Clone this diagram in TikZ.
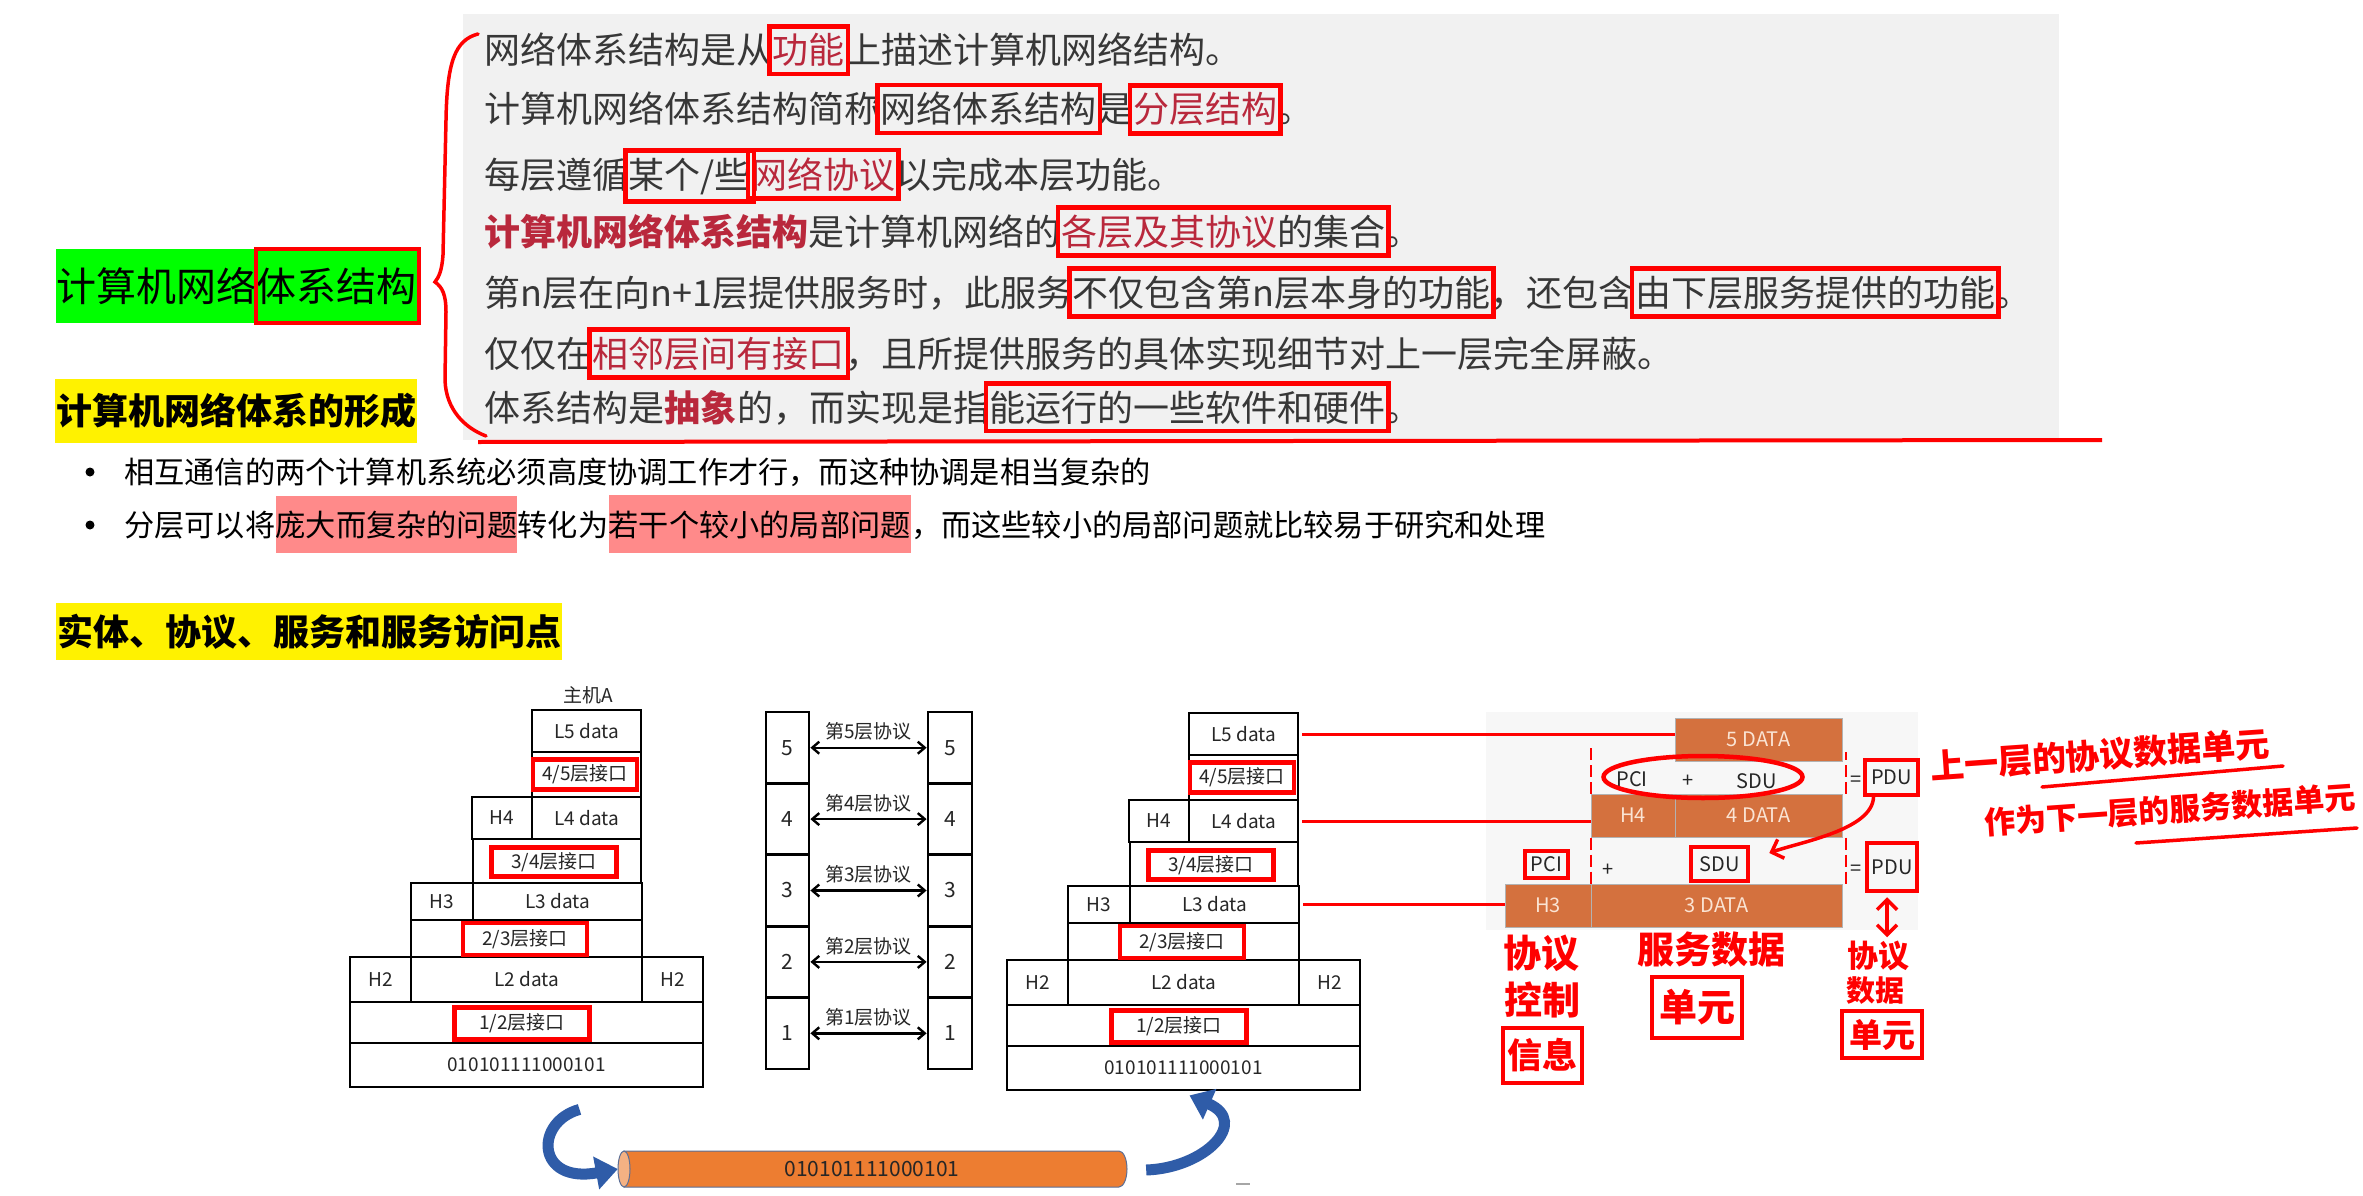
\documentclass[tikz,border=0pt]{standalone}
\usepackage{fontspec}
\setmainfont{Noto Sans CJK SC}
\usetikzlibrary{arrows.meta,shapes.geometric,fit,calc}
\definecolor{hred}{RGB}{255,0,0}
\definecolor{tred}{RGB}{185,40,60}
\definecolor{tgray}{RGB}{55,55,55}
\definecolor{panelgray}{RGB}{241,241,241}
\definecolor{pinkhl}{RGB}{255,138,138}
\definecolor{ofill}{RGB}{212,113,62}
\definecolor{otext}{RGB}{250,228,212}
\definecolor{cableorange}{RGB}{237,125,49}
\definecolor{cablelight}{RGB}{244,177,131}
\definecolor{cableedge}{RGB}{90,110,150}
\definecolor{arrowblue}{RGB}{47,92,168}
\newcommand{\setfs}[1]{\fontsize{#1}{#1}\selectfont}
\newcommand{\drawnetstack}[3]{%
 \begin{scope}[shift={(#2,#3)}]
 \node[cell, minimum width=109pt, minimum height=42pt] (#1L5) at (586.5,731) {L5 data};
 \node[cell, minimum width=109pt, minimum height=45pt] (#1R45) at (586.5,774.5) {};
 \node[cell, minimum width=60pt, minimum height=42pt] (#1H4) at (502,818) {H4};
 \node[cell, minimum width=109pt, minimum height=42pt] (#1L4) at (586.5,818) {L4 data};
 \node[cell, minimum width=168pt, minimum height=44pt] (#1R34) at (557,861) {};
 \node[cell, minimum width=62pt, minimum height=37pt] (#1H3) at (442,901.5) {H3};
 \node[cell, minimum width=169pt, minimum height=37pt] (#1L3) at (557.5,901.5) {L3 data};
 \node[cell, minimum width=231pt, minimum height=37pt] (#1R23) at (526.5,938.5) {};
 \node[cell, minimum width=61pt, minimum height=45pt] (#1H2a) at (380.5,979.5) {H2};
 \node[cell, minimum width=231pt, minimum height=45pt] (#1L2) at (526.5,979.5) {L2 data};
 \node[cell, minimum width=61pt, minimum height=45pt] (#1H2b) at (672.5,979.5) {H2};
 \node[cell, minimum width=353pt, minimum height=41pt] (#1R12) at (526.5,1022.5) {};
 \node[cell, minimum width=353pt, minimum height=44pt] (#1Bin) at (526.5,1065) {010101111000101};
 \node[ifbox, minimum width=104pt, minimum height=30pt] (#1I45) at (585,774.5) {4/5层接口};
 \node[ifbox, minimum width=125pt, minimum height=29pt] (#1I34) at (554,862) {3/4层接口};
 \node[ifbox, minimum width=124pt, minimum height=32pt] (#1I23) at (525,939) {2/3层接口};
 \node[ifbox, minimum width=135pt, minimum height=32pt] (#1I12) at (522,1023.5) {1/2层接口};
 \end{scope}}
\begin{document}
\begin{tikzpicture}[x=1pt,y=-1pt,
 ln/.style={inner sep=0pt, anchor=base west, font=\setfs{36}, text=tgray},
 lr/.style={ln, text=tred},
 hb/.style={draw=hred, line width=4.5pt, inner xsep=3pt, inner ysep=7pt},
 bl/.style={inner sep=0pt, anchor=base west, font=\setfs{30.2}, text=black},
 pk/.style={bl, fill=pinkhl, inner ysep=15pt},
 cell/.style={draw=black, line width=2.8pt, inner sep=0pt, font=\setfs{19}, text=black!85},
 ifbox/.style={draw=hred, line width=4.5pt, inner sep=0pt, font=\setfs{19}, text=black!85},
 proto/.style={line width=2.4pt, >={Straight Barb[length=7pt,width=12pt]}, <->},
 obox/.style={fill=ofill, draw=gray!60, line width=1pt, inner sep=0pt, font=\setfs{20}, text=otext},
 ptxt/.style={inner sep=0pt, font=\setfs{20}, text=black!85},
 rbox/.style={draw=hred, line width=4.5pt},
 hand/.style={draw=hred, line width=3.5pt, line cap=round, >={Straight Barb[length=10pt,width=20pt]}},
 hw/.style={inner sep=0pt, text=hred, font=\setfs{38}\bfseries},
 bluearrow/.style={draw=arrowblue, line width=11pt, -{Triangle[length=22pt,width=32pt]}}
]
\fill[white] (0,0) rectangle (2363,1196);
\useasboundingbox (0,0) rectangle (2363,1196);

% ---------- top panel ----------
\node[fill=panelgray, inner sep=0pt, minimum width=1596pt, minimum height=426pt] (panel) at (1261,227) {};

% green title
\node[fill=green, inner sep=0pt, minimum width=363pt, minimum height=74pt] (gbox) at (237.5,286) {};
\node[inner sep=0pt, anchor=base west, font=\setfs{40}] (g1) at (56,301) {计算机网络};
\node[inner sep=0pt, anchor=base west, font=\setfs{40}] (g2) at (g1.base east) {体系结构};
\draw[hred, line width=4pt] (g2.west |- gbox.north) rectangle (gbox.south east);

% brace
\draw[hred, line width=3.5pt, line cap=round] (478,34) .. controls (455,40) and (447,62) .. (446,120) -- (443,255) .. controls (442,270) and (439,277) .. (435,282) .. controls (442,287) and (446,294) .. (446,312) -- (445,380) .. controls (446,410) and (465,428) .. (486,436);

% line 1
\node[ln] (t1a) at (484,64) {网络体系结构是从};
\node[lr] (t1b) at (t1a.base east) {功能};
\node[ln] (t1c) at (t1b.base east) {上描述计算机网络结构。};
\node[hb, fit=(t1b)] (k1) {};
% line 2
\node[ln] (t2a) at (484,123) {计算机网络体系结构简称};
\node[ln] (t2b) at (t2a.base east) {网络体系结构};
\node[ln] (t2c) at (t2b.base east) {是};
\node[lr] (t2d) at (t2c.base east) {分层结构};
\node[ln] (t2e) at (t2d.base east) {。};
\node[hb, fit=(t2b)] (k2a) {};
\node[hb, fit=(t2d)] (k2b) {};
% line 3
\node[ln] (t3a) at (484,188) {每层遵循};
\node[ln] (t3b) at (t3a.base east) {某个/些};
\node[lr] (t3c) at (t3b.base east) {网络协议};
\node[ln] (t3d) at (t3c.base east) {以完成本层功能。};
\node[hb, fit=(t3b)] (k3a) {};
\node[hb, fit=(t3c)] (k3b) {};
% line 4
\node[lr, font=\setfs{36}\bfseries] (t4a) at (484,245) {计算机网络体系结构};
\node[ln] (t4b) at (t4a.base east) {是计算机网络的};
\node[lr] (t4c) at (t4b.base east) {各层及其协议};
\node[ln] (t4d) at (t4c.base east) {的集合};
\node[ln] (t4e) at (t4d.base east) {。};
\node[hb, fit=(t4c)(t4d)] (k4) {};
% line 5
\node[ln] (t5a) at (484,306) {第n层在向n+1层提供服务时，此服务};
\node[ln] (t5b) at (t5a.base east) {不仅包含第n层本身的功能};
\node[ln] (t5c) at (t5b.base east) {，还包含};
\node[ln] (t5d) at (t5c.base east) {由下层服务提供的功能};
\node[ln] (t5e) at (t5d.base east) {。};
\node[hb, fit=(t5b)] (k5a) {};
\node[hb, fit=(t5d)] (k5b) {};
% line 6
\node[ln] (t6a) at (484,367) {仅仅在};
\node[lr] (t6b) at (t6a.base east) {相邻层间有接口};
\node[ln] (t6c) at (t6b.base east) {，且所提供服务的具体实现细节对上一层完全屏蔽。};
\node[hb, fit=(t6b)] (k6) {};
% line 7
\node[ln] (t7a) at (484,421) {体系结构是};
\node[lr, font=\setfs{36}\bfseries] (t7b) at (t7a.base east) {抽象};
\node[ln] (t7c) at (t7b.base east) {的，而实现是指};
\node[ln] (t7d) at (t7c.base east) {能运行的一些软件和硬件};
\node[ln] (t7e) at (t7d.base east) {。};
\node[hb, fit=(t7d)] (k7) {};

\draw[hred, line width=4pt] (478,442) -- (2102,440);

% yellow heading 1
\node[fill=yellow, inner sep=0pt, minimum width=362pt, minimum height=64pt, font=\setfs{36}\bfseries] (y1) at (236,411) {计算机网络体系的形成};

% bullets
\node[circle, fill=black, inner sep=0pt, minimum size=9pt] (d1) at (90,472) {};
\node[bl] (u1) at (124,483) {相互通信的两个计算机系统必须高度协调工作才行，而这种协调是相当复杂的};
\node[circle, fill=black, inner sep=0pt, minimum size=9pt] (d2) at (90,525) {};
\node[bl] (u2a) at (124,536) {分层可以将};
\node[pk] (u2b) at (u2a.base east) {庞大而复杂的问题};
\node[bl] (u2c) at (u2b.base east) {转化为};
\node[pk] (u2d) at (u2c.base east) {若干个较小的局部问题};
\node[bl] (u2e) at (u2d.base east) {，而这些较小的局部问题就比较易于研究和处理};

% yellow heading 2
\node[fill=yellow, inner sep=0pt, minimum width=506pt, minimum height=57pt, font=\setfs{36}\bfseries] (y2) at (309,631.5) {实体、协议、服务和服务访问点};

% ---------- stacks ----------
\node[inner sep=0pt, font=\setfs{19}, text=black!85] (hostA) at (588,695) {主机A};
\drawnetstack{A}{0}{0}
\drawnetstack{B}{657}{3}

% protocol ladder
\foreach \n/\yy in {5/747.7, 4/819.1, 3/890.5, 2/961.9, 1/1033.3} {
  \node[cell, minimum width=43pt, minimum height=71.4pt, font=\setfs{21}] (P\n L) at (787.5,\yy) {\n};
  \node[cell, minimum width=44pt, minimum height=71.4pt, font=\setfs{21}] (P\n R) at (950,\yy) {\n};
  \draw[proto] (P\n L.east) -- (P\n R.west) node[midway, yshift=16pt, inner sep=0pt, font=\setfs{19}, text=black!85] {第\n 层协议};
}

% cable
\draw[fill=cableorange, draw=cableedge, line width=1pt] (624,1151) -- (1119,1151) arc[start angle=90, end angle=-90, x radius=8pt, y radius=18pt] -- (624,1187) -- cycle;
\draw[fill=cablelight, draw=cableedge, line width=1pt] (624,1169) ellipse [x radius=6pt, y radius=18pt];
\node[inner sep=0pt, minimum width=508pt, minimum height=36pt, font=\setfs{21}, text=black!85] (cable) at (872,1169) {010101111000101};

% blue arrows
\draw[bluearrow] ([shift={(53,21)}]ABin.south) .. controls (534,1122) and (536,1184) .. (cable.west);
\draw[bluearrow] ([shift={(20,1)}]cable.east) .. controls (1205,1168) and (1250,1122) .. ([shift={(6,4)}]BBin.south);
\draw[gray!70, line width=1.5pt] (1236,1184) -- (1250,1184);

% ---------- PDU diagram ----------
\node[fill=black!3, inner sep=0pt, minimum width=432pt, minimum height=218pt] (rpanel) at (1702,821) {};
\node[obox, minimum width=167pt, minimum height=43pt] (O5) at (1758.5,739.5) {5 DATA};
\node[obox, minimum width=84pt, minimum height=43pt] (OH4) at (1633,815.5) {H4};
\node[obox, minimum width=167pt, minimum height=43pt] (O4) at (1758.5,815.5) {4 DATA};
\node[obox, minimum width=86pt, minimum height=43pt] (OH3) at (1548,905.5) {H3};
\node[obox, minimum width=251pt, minimum height=43pt] (O3) at (1716.5,905.5) {3 DATA};

\draw[hred, line width=3pt, shorten <=3pt] (BL5.east) -- (BL5.east -| O5.west);
\draw[hred, line width=3pt, shorten <=3pt] (BL4.east) -- (BL4.east -| OH4.west);
\draw[hred, line width=3pt, shorten <=3pt] (BL3.east) -- (BL3.east -| OH3.west);

\draw[hred, line width=2pt, dash pattern=on 12pt off 5pt] (OH4.north west) -- ++(0,-46);
\draw[hred, line width=2pt, dash pattern=on 12pt off 5pt] (OH4.south west) -- (O3.north west);
\draw[hred, line width=2pt, dash pattern=on 12pt off 5pt] ([xshift=3pt]O4.north east) -- ++(0,-42);
\draw[hred, line width=2pt, dash pattern=on 12pt off 5pt] ([xshift=3pt]O4.south east) -- ([xshift=3pt]O3.north east);

\node[ptxt] (pci1) at (1632,779) {PCI};
\node[ptxt] (plus1) at (1688,781) {+};
\node[ptxt] (sdu1) at (1757,781) {SDU};
\node[ellipse, draw=hred, line width=4.5pt, minimum width=199pt, minimum height=42pt, inner sep=0pt] (ell) at (1703,777) {};
\node[ptxt] (eq1) at (1856,781) {=};
\node[ptxt, rbox, minimum width=53pt, minimum height=35pt] (pdu1) at (1891.5,777.5) {PDU};

\node[ptxt, rbox, minimum width=43pt, minimum height=27pt] (pci2) at (1546.5,864.5) {PCI};
\node[ptxt] (plus2) at (1608,870) {+};
\node[ptxt, rbox, minimum width=57pt, minimum height=34pt] (sdu2) at (1719.5,864) {SDU};
\node[ptxt] (eq2) at (1856,870) {=};
\node[ptxt, rbox, minimum width=50pt, minimum height=48pt] (pdu2) at (1892,867) {PDU};

\draw[hand, ->] ([xshift=-18pt]pdu1.south) .. controls (1872,830) and (1800,842) .. ([xshift=19pt,yshift=11pt]sdu2.east);
\draw[hand, <->] ([xshift=-5pt,yshift=-4pt]pdu2.south) -- ++(0,40);

% handwritten notes
\node[hw] (h1) at (1541,953) {协议};
\node[hw] (h2) at (1542,1000) {控制};
\node[hw, font=\setfs{35}\bfseries, draw=hred, line width=4.5pt, minimum width=79pt, minimum height=55pt] (h3) at (1542.5,1055.5) {信息};
\node[hw, font=\setfs{37}\bfseries] (h4) at (1711,950) {服务数据};
\node[hw, draw=hred, line width=4.5pt, minimum width=90pt, minimum height=61pt] (h5) at (1697,1007.5) {单元};
\node[hw, font=\setfs{31}\bfseries] (h6) at (1878,956) {协议};
\node[hw, font=\setfs{29}\bfseries] (h7) at (1875,991) {数据};
\node[hw, font=\setfs{33}\bfseries, draw=hred, line width=4.5pt, minimum width=80pt, minimum height=47pt] (h8) at (1882,1034.5) {单元};

\node[hw, font=\setfs{34}\bfseries, rotate=4] (n1) at (2100,755) {上一层的协议数据单元};
\node[hw, font=\setfs{31}\bfseries, rotate=4] (n2) at (2170,810) {作为下一层的服务数据单元};
\draw[hand] (2042,787) -- (2283,766);
\draw[hand] (2136,843) -- (2357,828);
\end{tikzpicture}
\end{document}
